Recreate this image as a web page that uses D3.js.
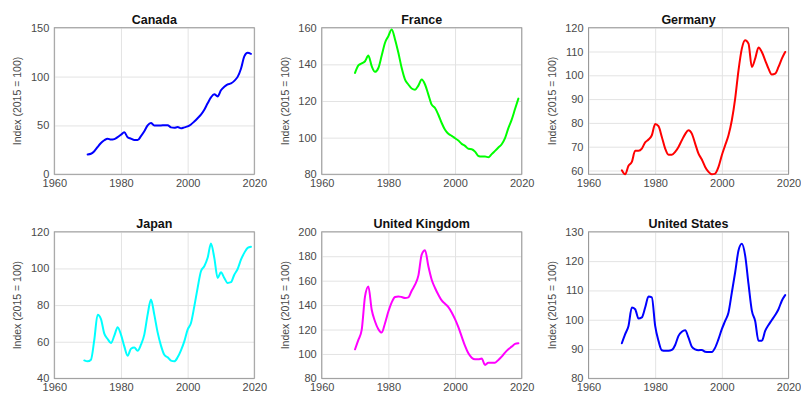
<!DOCTYPE html>
<html>
<head>
<meta charset="utf-8">
<script src="https://cdn.jsdelivr.net/npm/d3@7"></script>
<style>
  html, body { margin: 0; padding: 0; background: #fff; }
  svg { display: block; }
  text { font-family: "Liberation Sans", Arial, sans-serif; }
</style>
</head>
<body>
<svg id="chart" width="801" height="393"></svg>
<script>
// Real house price indices, 2015 = 100
const years1970 = d3.range(1970, 2020);
const years1969 = d3.range(1969, 2020);
const xTicks = [1960, 1980, 2000, 2020];

const canada = [20.3, 21, 23.6, 28, 32, 34.8, 36.5, 35.5, 36, 38,
  40.5, 43, 38, 36.5, 35, 35, 39, 44, 50, 52.4,
  50, 50, 50, 50.3, 50.3, 48, 47.6, 48.3, 47, 48,
  49, 51, 54, 57.4, 61, 66, 72.6, 78.7, 82, 79.7,
  86, 89.5, 92, 93, 95.6, 99.7, 108, 120.6, 124.3, 123.3];

const france = [135.3, 139.4, 140.5, 141.7, 144.8, 139, 135.9, 138, 144.8, 151.8,
  155.4, 159, 153.6, 146.3, 138, 131.7, 129, 126.8, 126.2, 128.4,
  131.7, 129, 123.5, 118, 116.2, 112.5, 108, 104.3, 102.1, 101,
  99.7, 98.4, 96.6, 95.5, 93.9, 93.7, 92.4, 90, 89.7, 89.7,
  89.3, 91, 92.8, 94.6, 96.4, 99.7, 105.2, 109.8, 115.6, 121.3];

const germany = [60.1, 58.4, 62, 63.6, 68.3, 68.3, 69.2, 71.8, 73, 74.8,
  79.5, 78.6, 74.1, 69.2, 66.6, 66.6, 67.8, 69.9, 72.7, 75.3,
  76.9, 75.5, 71.3, 67.1, 64.6, 61.5, 59.4, 58.4, 58.7, 61.5,
  66.4, 70.6, 74.8, 81.1, 90.2, 102.1, 111.2, 114.7, 113.3, 103.5,
  107, 111.7, 109.8, 106.3, 102.8, 100.3, 100.7, 103.5, 107, 109.8];

const japan = [49.8, 49.3, 50.2, 61.1, 74.8, 72.4, 64.4, 61.5, 59.3, 63.3, 67.9,
  63.9, 57.5, 52.4, 56.2, 56.9, 55.1, 58.4, 63.9, 74.8, 83,
  74.8, 65.1, 57.9, 52.9, 51.5, 49.7, 49.3, 51.5, 55.3, 60.2,
  66.6, 70.2, 79.3, 89.4, 98.5, 101.2, 105.8, 113.6, 105.8, 94.8,
  97.9, 94.8, 92.1, 92.5, 96.6, 99.7, 104.8, 108.5, 111.2, 111.8];

const unitedKingdom = [103.8, 111.5, 119.7, 147.1, 155.3, 136.2, 126.6, 120.3, 117.5, 125.2,
  134.8, 142.2, 146.6, 147.1, 146.6, 145.8, 146.3, 151.8, 156.7, 164.1,
  181.4, 184.9, 171.8, 160.8, 154, 148.5, 143.8, 141.1, 138.4, 134,
  128.5, 121.9, 114.2, 106.6, 100.5, 97, 95.6, 95.6, 96.2, 91,
  92.9, 92.9, 92.9, 95.1, 97.8, 101.1, 103.8, 106, 108.2, 108.8];

const unitedStates = [92, 95.1, 97.9, 104.2, 103.6, 100.4, 100.8, 104.2, 107.9, 107.6,
  97.9, 92.8, 89.6, 89.4, 89.4, 89.7, 91.4, 94.5, 95.9, 96.4,
  93.9, 90.8, 89.9, 89.6, 89.7, 89.1, 89, 89, 90.5, 93.4,
  96.8, 99.6, 102.5, 109.3, 116.2, 123.6, 125.9, 121.9, 112.2, 103.1,
  99.6, 92.8, 92.8, 96.2, 98.2, 99.9, 101.6, 103.6, 106.5, 108.4];

const panels = [
  { title: "Canada", years: years1970, values: canada, yDomain: [0, 150], yTicks: [0, 50, 100, 150], color: "#0000ff" },
  { title: "France", years: years1970, values: france, yDomain: [80, 160], yTicks: [80, 100, 120, 140, 160], color: "#00ff00" },
  { title: "Germany", years: years1970, values: germany, yDomain: [58.4, 120], yTicks: [60, 70, 80, 90, 100, 110, 120], color: "#ff0000" },
  { title: "Japan", years: years1969, values: japan, yDomain: [40, 120], yTicks: [40, 60, 80, 100, 120], color: "#00ffff" },
  { title: "United Kingdom", years: years1970, values: unitedKingdom, yDomain: [80, 200], yTicks: [80, 100, 120, 140, 160, 180, 200], color: "#ff00ff" },
  { title: "United States", years: years1970, values: unitedStates, yDomain: [80, 130], yTicks: [80, 90, 100, 110, 120, 130], color: "#0000ff" }
];

// grid of 3 x 2 axes boxes
const colLeft = [54.3, 321.7, 588.5];
const plotW = 200;
const rowTop = [27.7, 231.8];
const plotH = 146.6;

const svg = d3.select("#chart");

panels.forEach((p, i) => {
  const x0 = colLeft[i % 3];
  const y0 = rowTop[Math.floor(i / 3)];
  const g = svg.append("g").attr("transform", `translate(${x0},${y0})`);

  const x = d3.scaleLinear().domain([1960, 2020]).range([0, plotW]);
  const y = d3.scaleLinear().domain(p.yDomain).range([plotH, 0]);

  // grid lines
  g.append("g")
    .call(d3.axisBottom(x).tickValues(xTicks).tickSize(-plotH).tickFormat(""))
    .attr("transform", `translate(0,${plotH})`)
    .call(s => s.select(".domain").remove())
    .call(s => s.selectAll("line").attr("stroke", "#e3e3e3").attr("stroke-width", 1));
  g.append("g")
    .call(d3.axisLeft(y).tickValues(p.yTicks).tickSize(-plotW).tickFormat(""))
    .call(s => s.select(".domain").remove())
    .call(s => s.selectAll("line").attr("stroke", "#e3e3e3").attr("stroke-width", 1));

  // box
  g.append("rect")
    .attr("x", 0).attr("y", 0).attr("width", plotW).attr("height", plotH)
    .attr("fill", "none").attr("stroke", "#9a9a9a").attr("stroke-width", 1);

  // tick labels
  const xa = g.append("g")
    .attr("transform", `translate(0,${plotH})`)
    .call(d3.axisBottom(x).tickValues(xTicks).tickSize(0).tickPadding(5).tickFormat(d3.format("d")));
  xa.select(".domain").remove();
  xa.selectAll("text").attr("font-size", "11px").attr("fill", "#4a4a4a")
    .attr("font-family", "'Liberation Sans', Arial, sans-serif");

  const ya = g.append("g")
    .call(d3.axisLeft(y).tickValues(p.yTicks).tickSize(0).tickPadding(5).tickFormat(d3.format("d")));
  ya.select(".domain").remove();
  ya.selectAll("text").attr("font-size", "11px").attr("fill", "#4a4a4a")
    .attr("font-family", "'Liberation Sans', Arial, sans-serif");

  // y label
  g.append("text")
    .attr("transform", `translate(-33,${plotH / 2}) rotate(-90)`)
    .attr("text-anchor", "middle")
    .attr("font-size", "10.5px")
    .attr("fill", "#4a4a4a")
    .text("Index (2015 = 100)");

  // title
  g.append("text")
    .attr("x", plotW / 2).attr("y", -3.5)
    .attr("text-anchor", "middle")
    .attr("font-size", "12.5px")
    .attr("font-weight", "bold")
    .attr("fill", "#111")
    .text(p.title);

  // series
  const line = d3.line()
    .x((d, k) => x(p.years[k]))
    .y(d => y(d))
    .curve(d3.curveMonotoneX);
  g.append("path")
    .datum(p.values)
    .attr("d", line)
    .attr("fill", "none")
    .attr("stroke", p.color)
    .attr("stroke-width", 2)
    .attr("stroke-linejoin", "round")
    .attr("stroke-linecap", "round");
});
</script>
</body>
</html>
